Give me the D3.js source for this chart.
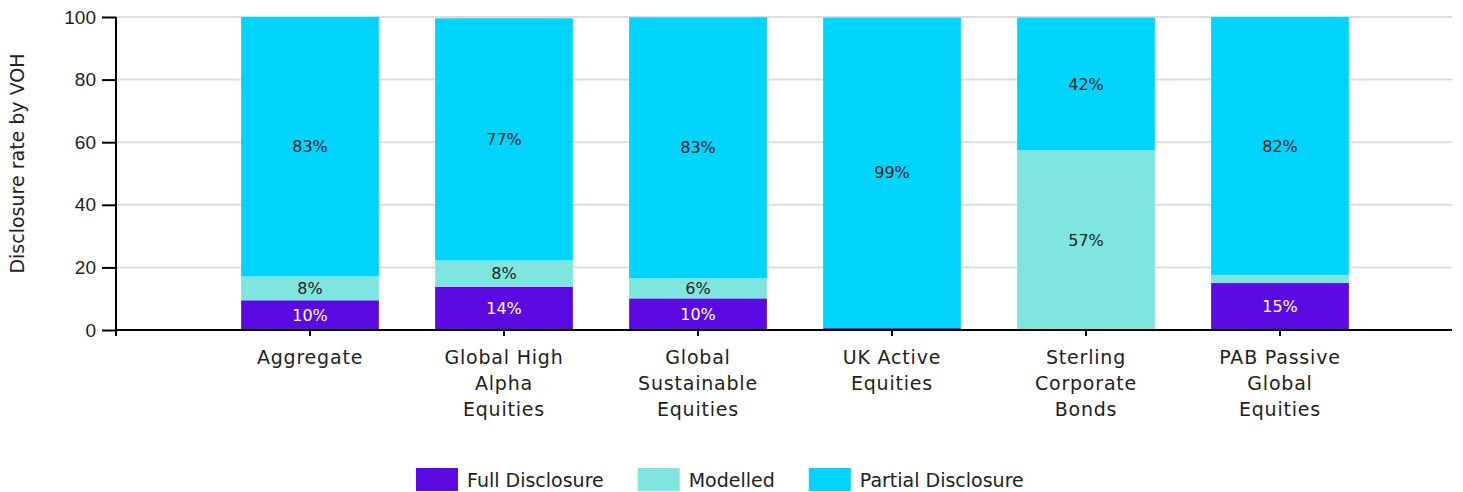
<!DOCTYPE html>
<html>
<head>
    <script src="https://cdnjs.cloudflare.com/ajax/libs/d3/7.8.5/d3.min.js"></script>
    <style>
        body { margin: 0; background: #fff; }
        svg { font-family: "DejaVu Sans", sans-serif; }
        .grid line { stroke: #dddddd; stroke-width: 2px; }
        .axis path, .axis line { stroke: #000; stroke-width: 2px; }
        .axis text { font-size: 19px; fill: #222; }
        .x-label { font-size: 20px; letter-spacing: 0.8px; }
        .bar-label { font-size: 16px; pointer-events: none; }
        .legend text { font-size: 19px; fill: #222; }
    </style>
</head>
<body>
    <svg width="1463" height="492"></svg>
    <script>
        // Data
        const categories = [
            "Aggregate",
            "Global High Alpha Equities",
            "Global Sustainable Equities",
            "UK Active Equities",
            "Sterling Corporate Bonds",
            "PAB Passive Global Equities"
        ];
        const categoryLines = [
            ["Aggregate"],
            ["Global High", "Alpha", "Equities"],
            ["Global", "Sustainable", "Equities"],
            ["UK Active", "Equities"],
            ["Sterling", "Corporate", "Bonds"],
            ["PAB Passive", "Global", "Equities"]
        ];
        const fullDisclosure = [9.5, 13.8, 10.1, 0.6, 0, 15.0];
        const modelled = [7.6, 8.4, 6.4, 0, 57.4, 2.6];
        const partialDisclosure = [82.9, 77.4, 83.4, 99.2, 42.4, 82.4];
        const seriesNames = ["Full Disclosure", "Modelled", "Partial Disclosure"];
        const yTicks = [0, 20, 40, 60, 80, 100];

        const colors = ["#5b0ae1", "#7fe6df", "#00d4fd"];
        const labelColors = ["#ffffff", "#222222", "#222222"];

        const svg = d3.select("svg");
        const plotLeft = 116, plotRight = 1452, plotTop = 17, plotBottom = 330;
        const step = 194;

        const rows = categories.map((c, i) => ({
            category: c,
            "Full Disclosure": fullDisclosure[i],
            "Modelled": modelled[i],
            "Partial Disclosure": partialDisclosure[i]
        }));
        const stacked = d3.stack().keys(seriesNames)(rows);

        // Scales: first slot (at the y axis) is left empty
        const x = d3.scaleBand()
            .domain(categories)
            .range([plotLeft + step / 2, plotLeft + step * 6.5])
            .paddingInner(0.29)
            .paddingOuter(0.145);
        const y = d3.scaleLinear().domain([0, 100]).range([plotBottom, plotTop]);

        // Gridlines
        svg.append("g")
            .attr("class", "grid")
            .selectAll("line")
            .data(yTicks.filter(d => d > 0))
            .join("line")
            .attr("x1", plotLeft)
            .attr("x2", plotRight)
            .attr("y1", d => y(d))
            .attr("y2", d => y(d));

        // Bars
        const layer = svg.append("g")
            .selectAll("g")
            .data(stacked)
            .join("g")
            .attr("fill", (d, i) => colors[i]);

        layer.selectAll("rect")
            .data(d => d)
            .join("rect")
            .attr("x", d => x(d.data.category))
            .attr("width", x.bandwidth())
            .attr("y", d => y(d[1]))
            .attr("height", d => Math.max(0, y(d[0]) - y(d[1])));

        // Bar labels
        stacked.forEach((s, si) => {
            svg.append("g")
                .selectAll("text")
                .data(s.filter(d => d[1] - d[0] >= 5))
                .join("text")
                .attr("class", "bar-label")
                .attr("x", d => x(d.data.category) + x.bandwidth() / 2)
                .attr("y", d => y((d[0] + d[1]) / 2))
                .attr("dy", "0.35em")
                .attr("text-anchor", "middle")
                .attr("fill", labelColors[si])
                .text(d => Math.round(d[1] - d[0]) + "%");
        });

        // Y axis
        const yAxis = svg.append("g")
            .attr("class", "axis")
            .attr("transform", `translate(${plotLeft},0)`)
            .call(d3.axisLeft(y).tickValues(yTicks).tickSize(14).tickSizeOuter(0).tickPadding(6));
        yAxis.select(".domain").attr("d", `M0,${plotTop}V${plotBottom}`);

        // X axis
        const xAxis = svg.append("g")
            .attr("class", "axis")
            .attr("transform", `translate(0,${plotBottom})`);
        xAxis.append("line")
            .attr("x1", plotLeft).attr("x2", plotRight)
            .attr("y1", 0).attr("y2", 0);
        xAxis.selectAll("line.tick")
            .data([null].concat(categories))
            .join("line")
            .attr("class", "tick")
            .attr("x1", d => d === null ? plotLeft : x(d) + x.bandwidth() / 2)
            .attr("x2", d => d === null ? plotLeft : x(d) + x.bandwidth() / 2)
            .attr("y1", 0).attr("y2", 6);
        xAxis.selectAll("text")
            .data(categories)
            .join("text")
            .attr("class", "x-label")
            .attr("text-anchor", "middle")
            .attr("x", d => x(d) + x.bandwidth() / 2)
            .attr("y", 34)
            .each(function(d, i) {
                d3.select(this).selectAll("tspan")
                    .data(categoryLines[i])
                    .join("tspan")
                    .attr("x", x(d) + x.bandwidth() / 2)
                    .attr("dy", (t, j) => j === 0 ? 0 : 26)
                    .text(t => t);
            });

        // Y axis title
        svg.append("text")
            .attr("transform", `translate(24,${(plotTop + plotBottom) / 2 - 10}) rotate(-90)`)
            .attr("text-anchor", "middle")
            .attr("font-size", 19)
            .attr("fill", "#222")
            .text("Disclosure rate by VOH");

        // Legend
        const legend = svg.append("g").attr("class", "legend");
        let lx = 416;
        seriesNames.forEach((name, i) => {
            const g = legend.append("g").attr("transform", `translate(${lx},468)`);
            g.append("rect").attr("width", 42).attr("height", 23).attr("fill", colors[i]);
            const t = g.append("text").attr("x", 51).attr("y", 12).attr("dy", "0.35em").text(name);
            lx += 51 + t.node().getComputedTextLength() + 34;
        });
    </script>
</body>
</html>
